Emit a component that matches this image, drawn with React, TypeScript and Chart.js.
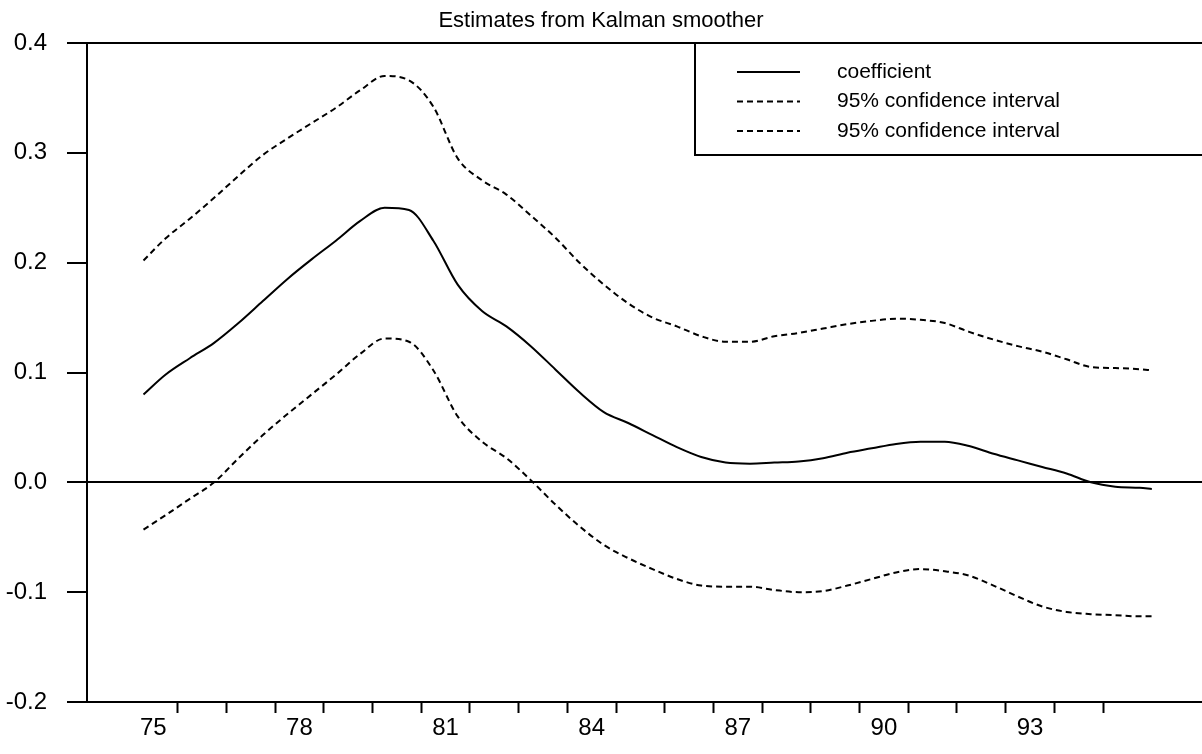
import React, { useEffect, useRef } from 'react';
import { Chart, registerables } from 'chart.js';

Chart.register(...registerables);

// ---- data ----
const years = [
  1975.3, 1975.75, 1976.25, 1976.75, 1977.25, 1977.75, 1978.25, 1978.75, 1979.25, 1979.75,
  1980.25, 1980.75, 1981.25, 1981.75, 1982.25, 1982.75, 1983.25, 1983.75, 1984.25, 1984.75,
  1985.25, 1985.75, 1986.25, 1986.75, 1987.25, 1987.75, 1988.25, 1988.75, 1989.25, 1989.75,
  1990.25, 1990.75, 1991.25, 1991.75, 1992.25, 1992.75, 1993.25, 1993.75, 1994.25, 1994.75,
  1995.25, 1995.75, 1996.0,
];

const coefficient = [
  0.080, 0.098, 0.113, 0.127, 0.145, 0.165, 0.185, 0.203, 0.220, 0.238,
  0.250, 0.248, 0.220, 0.180, 0.156, 0.142, 0.124, 0.103, 0.082, 0.064,
  0.054, 0.043, 0.032, 0.023, 0.018, 0.017, 0.018, 0.019, 0.022, 0.027,
  0.031, 0.035, 0.037, 0.037, 0.033, 0.026, 0.020, 0.014, 0.008, 0.000,
  -0.004, -0.005, -0.006,
];

const upperCI = [
  0.202, 0.222, 0.240, 0.259, 0.279, 0.298, 0.313, 0.327, 0.341, 0.357,
  0.370, 0.366, 0.342, 0.295, 0.275, 0.262, 0.243, 0.223, 0.200, 0.180,
  0.163, 0.150, 0.142, 0.133, 0.128, 0.128, 0.133, 0.136, 0.140, 0.144,
  0.147, 0.149, 0.148, 0.145, 0.137, 0.130, 0.124, 0.119, 0.112, 0.105,
  0.104, 0.103, 0.102,
];

const lowerCI = [
  -0.043, -0.030, -0.015, 0.000, 0.022, 0.043, 0.062, 0.080, 0.098, 0.117,
  0.131, 0.128, 0.102, 0.060, 0.037, 0.022, 0.002, -0.020, -0.040, -0.057,
  -0.069, -0.079, -0.088, -0.094, -0.095, -0.095, -0.098, -0.100, -0.099, -0.094,
  -0.088, -0.082, -0.079, -0.081, -0.085, -0.094, -0.104, -0.113, -0.118, -0.120,
  -0.121, -0.122, -0.122,
];

const seriesLabels = ['coefficient', '95% confidence interval', '95% confidence interval'];
const titleText = 'Estimates from Kalman smoother';

// year boundaries that carry a tick mark
const xTickYears = [
  1976, 1977, 1978, 1979, 1980, 1981, 1982, 1983, 1984, 1985,
  1986, 1987, 1988, 1989, 1990, 1991, 1992, 1993, 1994, 1995,
];
// labelled years (label sits in the middle of the year)
const xLabelYears = [1975, 1978, 1981, 1984, 1987, 1990, 1993];
const xTickLabels = ['75', '78', '81', '84', '87', '90', '93'];

const FONT = 'Arial, "Liberation Sans", Helvetica, sans-serif';

const legendBox = {
  id: 'legendBox',
  afterDraw(chart: any) {
    const { ctx, chartArea } = chart;
    const left = chartArea.left + 608;
    const top = chartArea.top;
    const bottom = top + 112;
    const right = chart.width + 10;
    ctx.save();
    ctx.strokeStyle = '#000';
    ctx.lineWidth = 2;
    ctx.beginPath();
    ctx.moveTo(right, top);
    ctx.lineTo(left, top);
    ctx.lineTo(left, bottom);
    ctx.lineTo(right, bottom);
    ctx.stroke();
    chart.data.datasets.forEach((ds: any, i: number) => {
      const y = top + 29 + i * 29.5;
      ctx.setLineDash(ds.borderDash || []);
      ctx.lineWidth = 2;
      ctx.beginPath();
      ctx.moveTo(left + 42, y);
      ctx.lineTo(left + 105, y);
      ctx.stroke();
      ctx.setLineDash([]);
      ctx.font = `21px ${FONT}`;
      ctx.textBaseline = 'middle';
      ctx.textAlign = 'left';
      ctx.fillStyle = '#000';
      ctx.fillText(ds.label, left + 142, y);
    });
    ctx.restore();
  },
};

export default function App() {
  const canvasRef = useRef<HTMLCanvasElement | null>(null);

  useEffect(() => {
    const canvas = canvasRef.current;
    if (!canvas) return;
    const mk = (vals: number[]) => years.map((x, i) => ({ x, y: vals[i] }));
    const labelPositions = xLabelYears.map((y) => y + 0.5);

    const chart = new Chart(canvas, {
      type: 'line',
      data: {
        datasets: [
          {
            label: seriesLabels[0],
            data: mk(coefficient),
            borderColor: '#000',
            borderWidth: 2,
            pointRadius: 0,
            cubicInterpolationMode: 'monotone',
            fill: false,
          },
          {
            label: seriesLabels[1],
            data: mk(upperCI),
            borderColor: '#000',
            borderWidth: 2,
            borderDash: [6, 4],
            pointRadius: 0,
            cubicInterpolationMode: 'monotone',
            fill: false,
          },
          {
            label: seriesLabels[2],
            data: mk(lowerCI),
            borderColor: '#000',
            borderWidth: 2,
            borderDash: [6, 4],
            pointRadius: 0,
            cubicInterpolationMode: 'monotone',
            fill: false,
          },
        ],
      },
      options: {
        animation: false,
        responsive: false,
        devicePixelRatio: 1,
        layout: { padding: 0 },
        plugins: {
          legend: { display: false },
          tooltip: { enabled: false },
          title: {
            display: true,
            text: titleText,
            color: '#000',
            font: { family: FONT, size: 22, weight: 'normal' },
            padding: { top: 8, bottom: 8.6 },
          },
        },
        scales: {
          x: {
            type: 'linear',
            min: 1974.14,
            max: 1997.03,
            afterBuildTicks: (scale: any) => {
              const vals = [...xTickYears, ...labelPositions].sort((a, b) => a - b);
              scale.ticks = vals.map((value) => ({ value }));
            },
            afterFit: (scale: any) => {
              scale.height = 52;
            },
            ticks: {
              autoSkip: false,
              maxRotation: 0,
              minRotation: 0,
              padding: 1,
              color: '#000',
              font: { family: FONT, size: 24 },
              callback: (v: any) => {
                const idx = labelPositions.findIndex((p) => Math.abs(p - Number(v)) < 1e-6);
                return idx >= 0 ? xTickLabels[idx] : '';
              },
            },
            grid: {
              drawOnChartArea: false,
              tickLength: 11,
              tickWidth: 2,
              tickColor: (c: any) =>
                c.tick && xTickYears.some((y) => Math.abs(y - c.tick.value) < 1e-6)
                  ? '#000'
                  : 'rgba(0,0,0,0)',
            },
            border: { display: true, color: '#000', width: 2 },
          },
          y: {
            type: 'linear',
            min: -0.2,
            max: 0.4,
            afterFit: (scale: any) => {
              scale.width = 87;
            },
            ticks: {
              stepSize: 0.1,
              padding: 20,
              color: '#000',
              font: { family: FONT, size: 24 },
              callback: (v: any) => {
                const n = Number(v);
                return Math.abs(n) < 1e-9 ? '0.0' : n.toFixed(1);
              },
            },
            grid: {
              drawOnChartArea: true,
              tickLength: 20,
              tickWidth: 2,
              lineWidth: 2,
              tickColor: '#000',
              color: (c: any) =>
                c.tick && (Math.abs(c.tick.value) < 1e-9 || Math.abs(c.tick.value - 0.4) < 1e-9)
                  ? '#000'
                  : 'rgba(0,0,0,0)',
            },
            border: { display: true, color: '#000', width: 2 },
          },
        },
      },
      plugins: [legendBox],
    } as any);

    return () => chart.destroy();
  }, []);

  return (
    <div style={{ position: 'fixed', left: 0, top: 0, width: 1202, height: 754, background: '#fff' }}>
      <canvas ref={canvasRef} width={1202} height={754} style={{ display: 'block' }} />
    </div>
  );
}
